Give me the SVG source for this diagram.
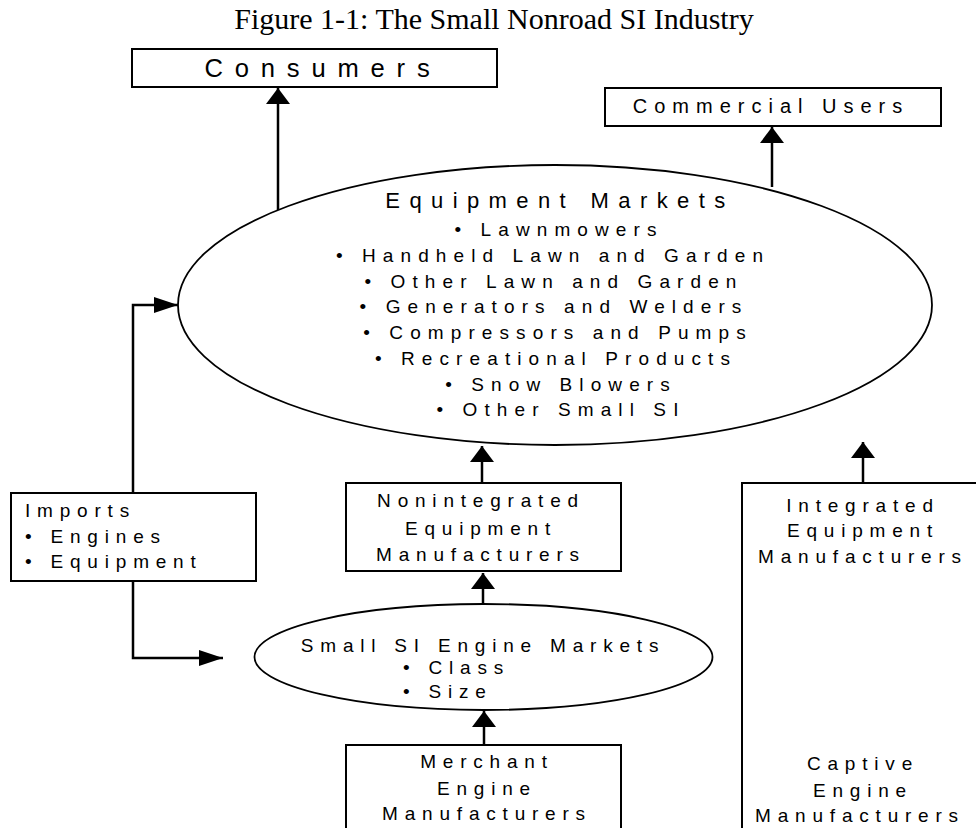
<svg xmlns="http://www.w3.org/2000/svg" width="976" height="828" viewBox="0 0 976 828">
<style>
  .bg{fill:#fff}
  .box{fill:#fff;stroke:#000;stroke-width:2}
  .ell{fill:#fff;stroke:#000;stroke-width:1.8}
  .t{font-family:"Liberation Sans",Arial,sans-serif;fill:#000;font-size:19px;letter-spacing:6.8px}
  .c{text-anchor:middle}
  .big{font-size:22px;letter-spacing:9.4px}
  .cons{font-size:25.6px;letter-spacing:11.8px}
  .comm{font-size:20px;letter-spacing:7px}
  .el{letter-spacing:7.1px}
  .title{font-family:"Liberation Serif","Times New Roman",serif;font-size:30px;text-anchor:middle;fill:#000}
  .con{fill:none;stroke:#000;stroke-width:2.5}
  .v{marker-end:url(#ahV)}
  .h{marker-end:url(#ahH)}
</style>
<defs>
  <marker id="ahV" viewBox="0 0 16 24" refX="16" refY="12" markerWidth="16" markerHeight="24" orient="auto" markerUnits="userSpaceOnUse"><path d="M0,0 L16,12 L0,24 z" fill="#000"/></marker>
  <marker id="ahH" viewBox="0 0 24 16" refX="24" refY="8" markerWidth="24" markerHeight="16" orient="auto" markerUnits="userSpaceOnUse"><path d="M0,0 L24,8 L0,16 z" fill="#000"/></marker>
</defs>
<rect class="bg" x="0" y="0" width="976" height="828"/>
<g id="title"><text class="title" x="494" y="29">Figure 1-1:  The Small Nonroad SI Industry</text></g>

<g id="connectors">
  <line class="con v" x1="278" y1="210" x2="278" y2="88"/>
  <line class="con v" x1="772" y1="187" x2="772" y2="127"/>
  <polyline class="con h" points="133,493 133,305 178,305"/>
  <polyline class="con h" points="133,581 133,658 223,658"/>
  <line class="con v" x1="482" y1="483" x2="482" y2="446"/>
  <line class="con v" x1="483" y1="604" x2="483" y2="573"/>
  <line class="con v" x1="484" y1="745" x2="484" y2="711"/>
  <line class="con v" x1="863" y1="483" x2="863" y2="442"/>
  <line class="con v" x1="863" y1="735" x2="863" y2="580"/>
</g>

<g id="consumers">
  <rect class="box" x="132" y="49" width="365" height="38"/>
  <text class="t cons c" x="323" y="77">Consumers</text>
</g>
<g id="commercial-users">
  <rect class="box" x="605" y="88" width="336" height="38"/>
  <text class="t comm c" x="771" y="113">Commercial Users</text>
</g>
<g id="equipment-markets">
  <ellipse class="ell" cx="555" cy="305" rx="377" ry="140"/>
  <text class="t big c" x="560" y="208">Equipment Markets</text>
  <text class="t el c" x="559" y="236">• Lawnmowers</text>
  <text class="t el c" x="553" y="262">• Handheld Lawn and Garden</text>
  <text class="t el c" x="554" y="288">• Other Lawn and Garden</text>
  <text class="t el c" x="554" y="313">• Generators and Welders</text>
  <text class="t el c" x="558" y="339">• Compressors and Pumps</text>
  <text class="t el c" x="556" y="365">• Recreational Products</text>
  <text class="t el c" x="561" y="391">• Snow Blowers</text>
  <text class="t el c" x="561" y="416">• Other Small SI</text>
</g>
<g id="imports">
  <rect class="box" x="11" y="493" width="245" height="88"/>
  <text class="t" x="25" y="517">Imports</text>
  <text class="t" x="25" y="543">• Engines</text>
  <text class="t" x="25" y="568">• Equipment</text>
</g>
<g id="nonintegrated">
  <rect class="box" x="346" y="483" width="275" height="88"/>
  <text class="t c" x="481" y="507">Nonintegrated</text>
  <text class="t c" x="481" y="535">Equipment</text>
  <text class="t c" x="481" y="561">Manufacturers</text>
</g>
<g id="integrated">
  <rect class="box" x="742" y="483" width="260" height="400"/>
  <text class="t c" x="863" y="512">Integrated</text>
  <text class="t c" x="863" y="537">Equipment</text>
  <text class="t c" x="863" y="563">Manufacturers</text>
</g>
<g id="small-si-engine-markets">
  <ellipse class="ell" cx="483.5" cy="657" rx="229" ry="53"/>
  <text class="t c" x="483" y="652">Small SI Engine Markets</text>
  <text class="t" x="403" y="674">• Class</text>
  <text class="t" x="403" y="698">• Size</text>
</g>
<g id="merchant">
  <rect class="box" x="346" y="745" width="275" height="100"/>
  <text class="t c" x="487" y="768">Merchant</text>
  <text class="t c" x="487" y="795">Engine</text>
  <text class="t c" x="487" y="820">Manufacturers</text>
</g>
<g id="captive">
  <text class="t c" x="863" y="770">Captive</text>
  <text class="t c" x="863" y="797">Engine</text>
  <text class="t c" x="860" y="822">Manufacturers</text>
</g>
</svg>
